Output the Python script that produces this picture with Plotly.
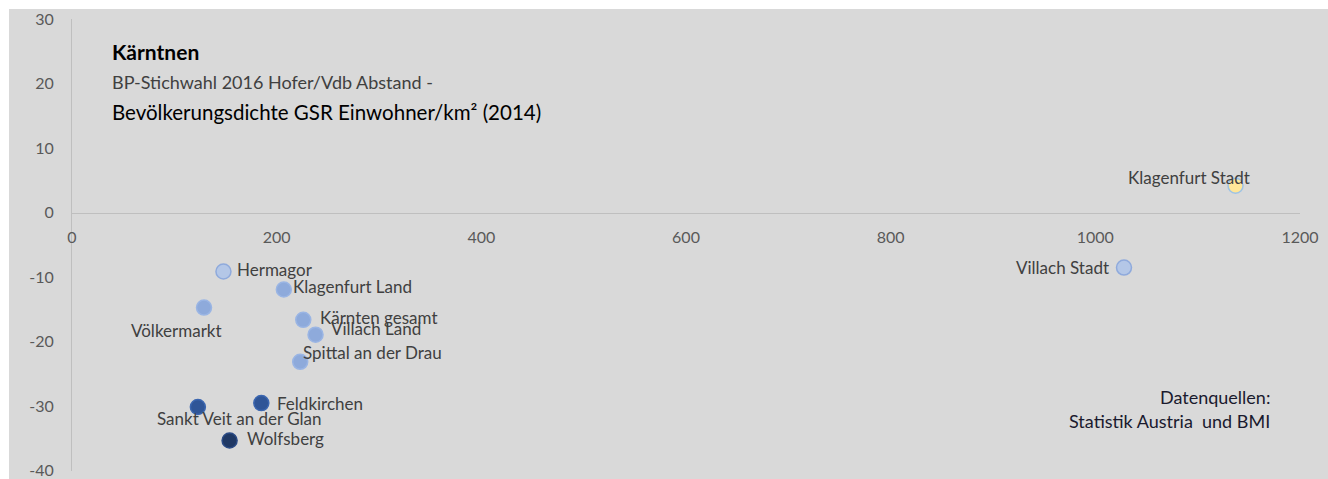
import plotly.graph_objects as go

# ---- data ----
names = ["Klagenfurt Stadt", "Villach Stadt", "Hermagor", "Klagenfurt Land", "Völkermarkt",
         "Kärnten gesamt", "Villach Land", "Spittal an der Drau", "Feldkirchen",
         "Sankt Veit an der Glan", "Wolfsberg"]
density = [1137, 1028, 148, 207, 129, 226, 238, 223, 185, 123, 154]
abstand = [4.2, -8.5, -9.1, -11.9, -14.7, -16.6, -18.9, -23.1, -29.5, -30.1, -35.3]

x_ticks = [0, 200, 400, 600, 800, 1000, 1200]
y_ticks = [30, 20, 10, 0, -10, -20, -30, -40]

# ---- styles ----
fills = ["#ffe699", "#b4c7e7", "#b4c7e7", "#8eaadb", "#8eaadb", "#8eaadb", "#8eaadb",
         "#8eaadb", "#2f5597", "#2f5597", "#1f3864"]
borders = ["#9dc3e6", "#8faadc", "#8faadc", "#9ab5e4", "#9ab5e4", "#9ab5e4", "#9ab5e4",
           "#9ab5e4", "#3b66b0", "#3b66b0", "#2a4a85"]
# label placement: (xanchor, xshift, yshift)
label_pos = {
    "Klagenfurt Stadt": ("right", 16, 8),
    "Villach Stadt": ("right", -13, 0),
    "Hermagor": ("left", 12, 2),
    "Klagenfurt Land": ("left", 7, 3),
    "Völkermarkt": ("right", 20, -23),
    "Kärnten gesamt": ("left", 15, 2),
    "Villach Land": ("left", 13, 6),
    "Spittal an der Drau": ("left", 1, 9),
    "Feldkirchen": ("left", 14, 0),
    "Sankt Veit an der Glan": ("left", -43, -12),
    "Wolfsberg": ("left", 15, 2),
}

FONT = "Lato, 'Open Sans', sans-serif"
W, H = 1328, 479
L, R, T, B = 72, 28, 19, 8
pw, ph = W - L - R, H - T - B

fig = go.Figure()
fig.add_trace(go.Scatter(
    x=density, y=abstand, mode="markers",
    marker=dict(size=15, color=fills, line=dict(color=borders, width=1.5)),
    hoverinfo="text", text=names, showlegend=False, cliponaxis=False,
))

annotations = []
for n, xv, yv in zip(names, density, abstand):
    anc, xs, ys = label_pos[n]
    annotations.append(dict(x=xv, y=yv, xref="x", yref="y", text=n, showarrow=False,
                            xanchor=anc, yanchor="middle", xshift=xs, yshift=ys,
                            font=dict(family=FONT, size=17, color="#404040")))

def px(xp):
    return (xp - L) / pw

def py(yp):
    return (H - B - yp) / ph

annotations += [
    dict(x=px(110), y=py(52), xref="paper", yref="paper", text="<b>Kärntnen</b>",
         showarrow=False, xanchor="left", yanchor="middle",
         font=dict(family=FONT, size=21, color="#000000")),
    dict(x=px(110), y=py(82), xref="paper", yref="paper",
         text="BP-Stichwahl 2016 Hofer/Vdb Abstand -",
         showarrow=False, xanchor="left", yanchor="middle",
         font=dict(family=FONT, size=18, color="#404040")),
    dict(x=px(110), y=py(112), xref="paper", yref="paper",
         text="Bevölkerungsdichte GSR Einwohner/km² (2014)",
         showarrow=False, xanchor="left", yanchor="middle",
         font=dict(family=FONT, size=20.5, color="#000000")),
    dict(x=px(1272), y=py(397), xref="paper", yref="paper", text="Datenquellen:",
         showarrow=False, xanchor="right", yanchor="middle",
         font=dict(family=FONT, size=18, color="#1a1a2e")),
    dict(x=px(1272), y=py(421), xref="paper", yref="paper", text="Statistik Austria  und BMI",
         showarrow=False, xanchor="right", yanchor="middle",
         font=dict(family=FONT, size=18, color="#1a1a2e")),
]

fig.update_layout(
    width=W, height=H,
    margin=dict(l=L, r=R, t=T, b=B),
    paper_bgcolor="white", plot_bgcolor="#d9d9d9",
    shapes=[dict(type="rect", xref="paper", yref="paper", layer="below",
                 x0=px(9), x1=px(W + 5), y0=py(H + 5), y1=py(9),
                 fillcolor="#d9d9d9", line=dict(width=0))],
    annotations=annotations,
    xaxis=dict(range=[0, 1200], tickvals=x_ticks, ticktext=[str(v) for v in x_ticks],
               anchor="free", position=(0 - (-40)) / 70, automargin=False,
               showline=True, linecolor="#bfbfbf", linewidth=1,
               showgrid=False, zeroline=False, ticks="", ticklabelstandoff=10,
               tickfont=dict(family=FONT, size=16, color="#595959")),
    yaxis=dict(range=[-40.02, 30.02], tickvals=y_ticks, ticktext=[str(v) for v in y_ticks],
               automargin=False, ticklabeloverflow="allow",
               showline=True, linecolor="#bfbfbf", linewidth=1,
               showgrid=False, zeroline=False, ticks="", ticklabelstandoff=14,
               tickfont=dict(family=FONT, size=16, color="#595959")),
    font=dict(family=FONT),
)

fig.write_html("out.html", config={"displayModeBar": False},
               post_script="document.body.style.margin='0';document.body.style.overflow='hidden';"
                           "document.documentElement.style.overflow='hidden';")
